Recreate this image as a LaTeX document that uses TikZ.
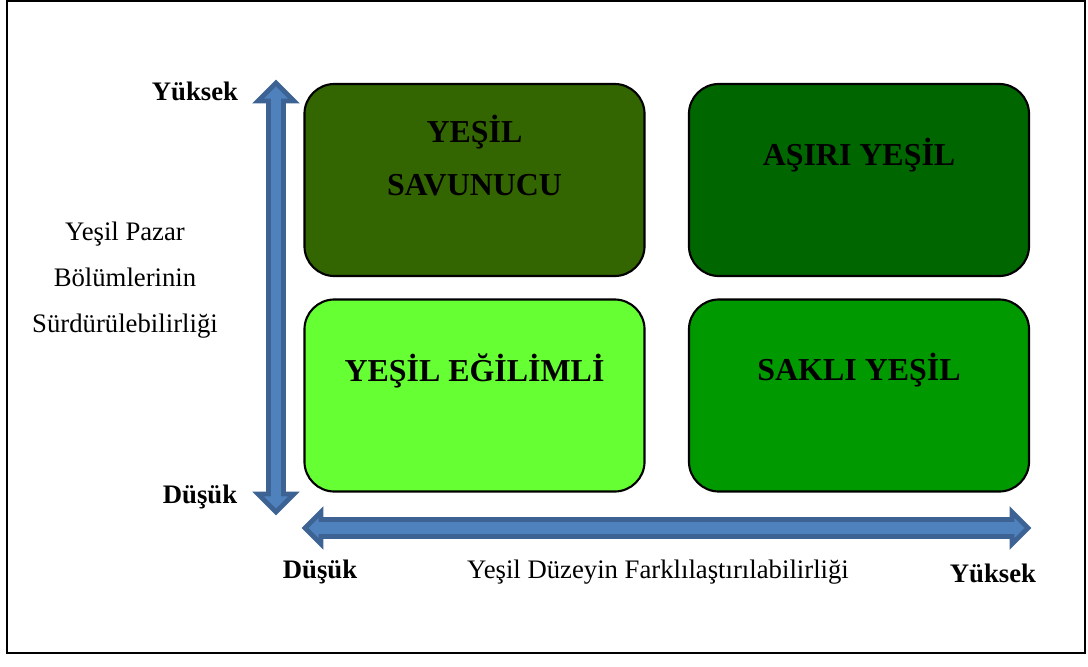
\documentclass[tikz,border=0pt]{standalone}
\usepackage{fontspec}
\setmainfont{Liberation Serif}
\usetikzlibrary{positioning}

\definecolor{defendgreen}{HTML}{336600}
\definecolor{extremegreen}{HTML}{006600}
\definecolor{leangreen}{HTML}{66FF33}
\definecolor{hiddengreen}{HTML}{009900}
\definecolor{axisblue}{HTML}{4F81BD}
\definecolor{axisdark}{HTML}{3D6394}

\begin{document}
\begin{tikzpicture}[
  x=0.025cm, y=-0.025cm,
  font=\fontsize{19}{32.6}\selectfont,
  quad/.style={draw, line width=1.5pt, rounded corners=0.75cm, minimum width=8.5cm, minimum height=4.8cm, inner sep=0pt},
  quadtext/.style={anchor=center, align=center, font=\fontsize{22.7}{37.6}\selectfont\bfseries},
  axislabel/.style={font=\fontsize{19}{22}\selectfont\bfseries},
  axisarrow/.style={fill=axisblue, draw=axisdark, line width=3.4pt, line join=miter}
]
\useasboundingbox (0,0) rectangle (1088,666);
\draw[line width=1.5pt] (7,1) rectangle (1085,653);

% quadrants
\node[quad, fill=defendgreen] (defend) at (474.5,180) {};
\node[quad, fill=extremegreen] (extreme) at (859,180) {};
\node[quad, fill=leangreen] (lean) at (474.5,395.5) {};
\node[quad, fill=hiddengreen] (hidden) at (859,395.5) {};
\node[quadtext] at ([yshift=-1.82cm]defend.north) {YEŞİL\\SAVUNUCU};
\node[quadtext] at ([yshift=-1.8cm]extreme.north) {AŞIRI YEŞİL};
\node[quadtext] at ([yshift=-1.8cm]lean.north) {YEŞİL EĞİLİMLİ};
\node[quadtext] at ([yshift=-1.8cm]hidden.north) {SAKLI YEŞİL};

% axes
\coordinate (ytop) at (276,83);
\coordinate (xleft) at (305,528);
\draw[axisarrow] (ytop) -- ++(18,18) -- ++(-10.5,0) -- ++(0,393) -- ++(10.5,0) -- ++(-18,18)
  -- ++(-18,-18) -- ++(10.5,0) -- ++(0,-393) -- ++(-10.5,0) -- cycle;
\draw[axisarrow] (xleft) -- ++(16,-16) -- ++(0,7.5) -- ++(691,0) -- ++(0,-7.5) -- ++(16,16)
  -- ++(-16,16) -- ++(0,-7.5) -- ++(-691,0) -- ++(0,7.5) -- cycle;

% labels
\node[axislabel] (yhigh) at (195,91) {Yüksek};
\node[axislabel] (ylow) at (200,497) {Düşük};
\node[axislabel] (xlow) at (320,572) {Düşük};
\node[axislabel] (xhigh) at (993,573) {Yüksek};
\node[align=center] (ytitle) at (125,280) {Yeşil Pazar\\Bölümlerinin\\Sürdürülebilirliği};
\node (xtitle) at (658,572) {Yeşil Düzeyin Farklılaştırılabilirliği};
\end{tikzpicture}
\end{document}
